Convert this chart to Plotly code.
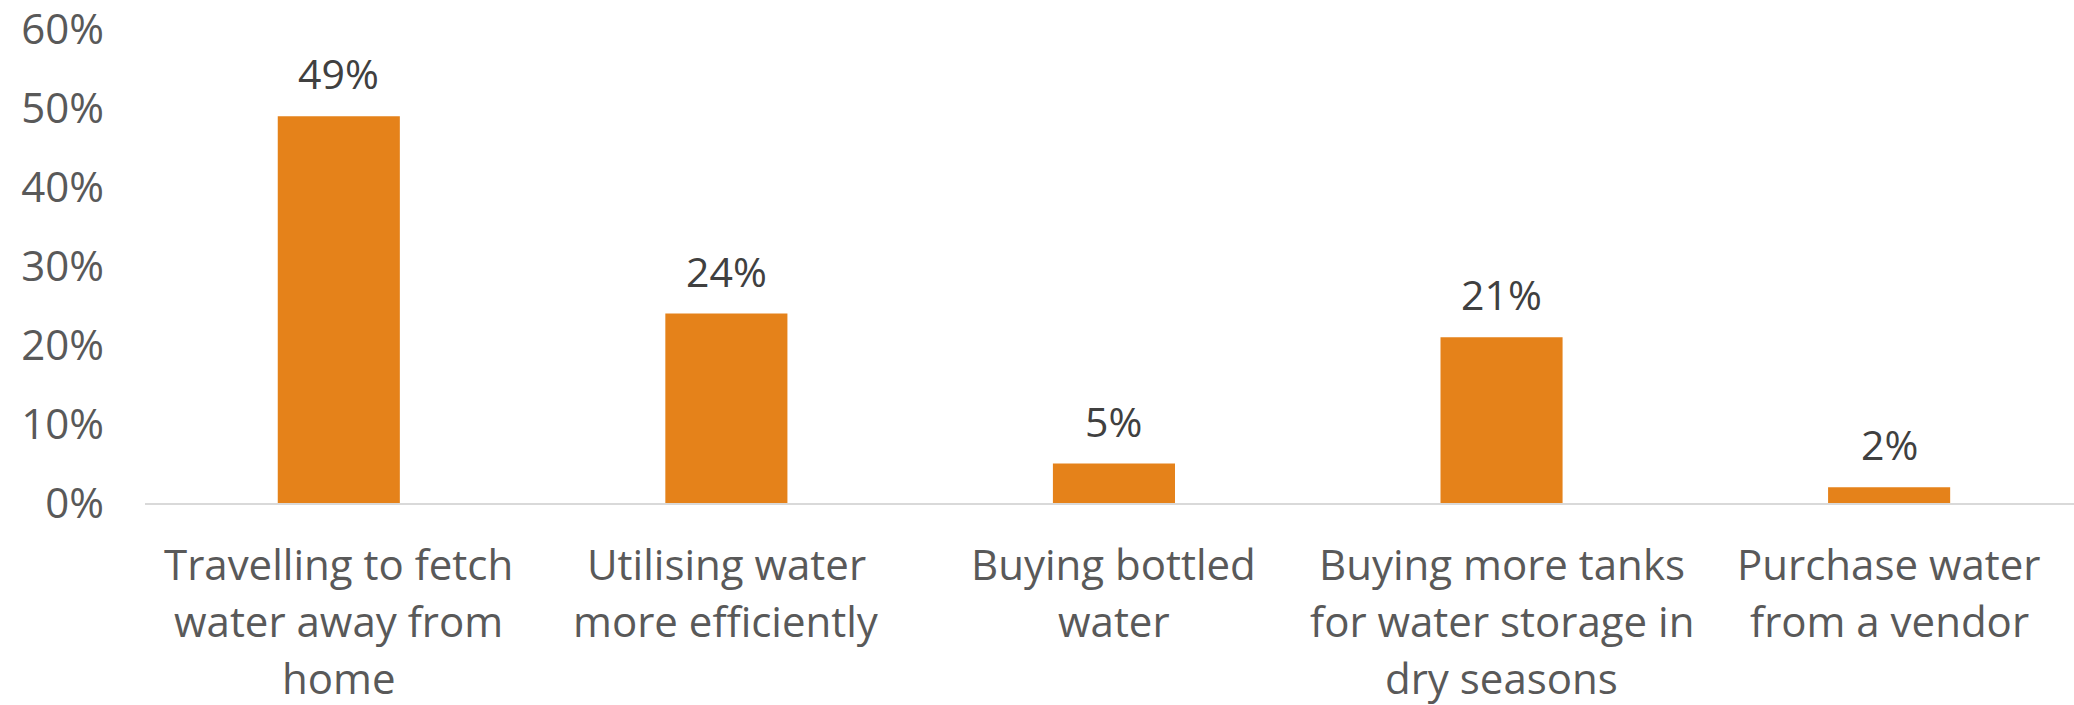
import plotly.graph_objects as go

# Responses and their shares
categories = [
    "Travelling to fetch<br>water away from<br>home",
    "Utilising water<br>more efficiently",
    "Buying bottled<br>water",
    "Buying more tanks<br>for water storage in<br>dry seasons",
    "Purchase water<br>from a vendor",
]
shares_pct = [49, 24, 5, 21, 2]
y_tick_vals = [0, 0.1, 0.2, 0.3, 0.4, 0.5, 0.6]
y_tick_text = ["0%", "10%", "20%", "30%", "40%", "50%", "60%"]

FONT = "Open Sans, Segoe UI, sans-serif"
BAR_COLOR = "#E5821A"
LABEL_GREY = "#595959"
VALUE_GREY = "#404040"

x_idx = list(range(len(categories)))
values = [v / 100 for v in shares_pct]

fig = go.Figure(
    go.Bar(
        x=x_idx,
        y=values,
        marker=dict(color=BAR_COLOR, line=dict(width=0)),
        width=0.315,
        hoverinfo="skip",
    )
)

annotations = []
# value labels above each bar
for xi, v, pct in zip(x_idx, values, shares_pct):
    annotations.append(dict(
        x=xi, y=v, xref="x", yref="y",
        text=f"{pct}%", showarrow=False,
        yanchor="middle", yshift=43,
        font=dict(family=FONT, size=41, color=VALUE_GREY),
    ))
# category labels, one annotation per line for wider line spacing
for xi, label in zip(x_idx, categories):
    for i, line in enumerate(label.split("<br>")):
        annotations.append(dict(
            x=xi, y=0, xref="x", yref="y",
            text=line, showarrow=False, borderpad=0,
            yanchor="middle", yshift=-(60 + 57 * i),
            font=dict(family=FONT, size=42, color=LABEL_GREY),
        ))

fig.update_layout(
    width=2074,
    height=705,
    margin=dict(l=145, r=0, t=29, b=202),
    paper_bgcolor="white",
    plot_bgcolor="white",
    showlegend=False,
    annotations=annotations,
    xaxis=dict(
        range=[-0.5, 4.477],
        showticklabels=False,
        showgrid=False,
        zeroline=False,
        showline=True,
        linecolor="#D9D9D9",
        linewidth=2,
        ticks="",
    ),
    yaxis=dict(
        range=[0, 0.6005],
        tickvals=y_tick_vals,
        ticktext=y_tick_text,
        showgrid=False,
        zeroline=False,
        showline=False,
        ticks="",
        ticklabelstandoff=40,
        ticklabeloverflow="allow",
        tickfont=dict(family=FONT, size=42, color=LABEL_GREY),
    ),
)

fig.write_html("out.html")
